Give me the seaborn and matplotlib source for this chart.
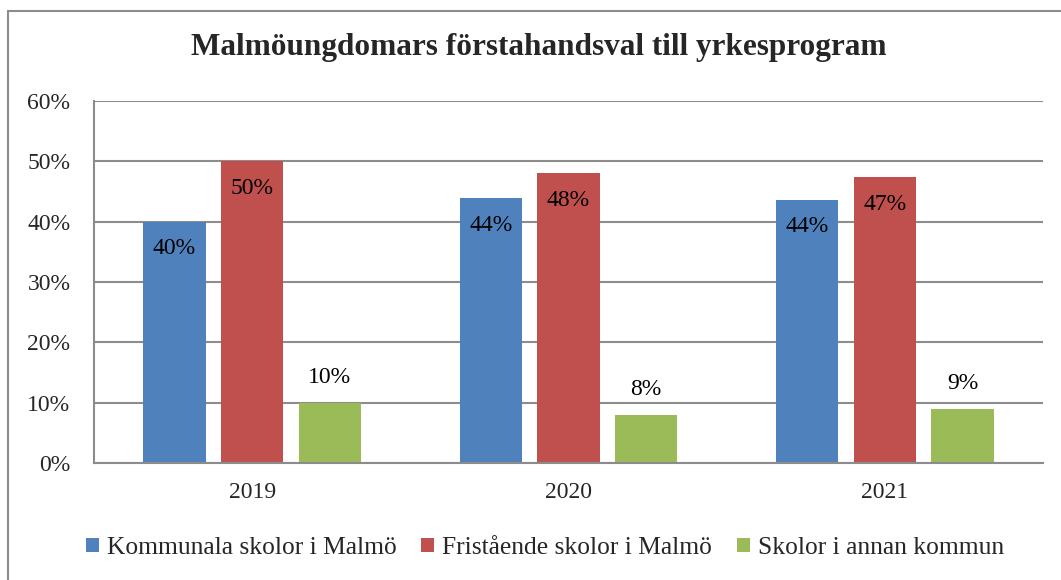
import pandas as pd
import matplotlib.pyplot as plt
import seaborn as sns
from matplotlib.patches import Rectangle

# data
years = ['2019', '2020', '2021']
series = ['Kommunala skolor i Malmö', 'Fristående skolor i Malmö', 'Skolor i annan kommun']
kommunala = [40.0, 43.9, 43.6]
fristaende = [50.0, 48.0, 47.4]
annan = [10.0, 8.0, 9.0]
label_kommunala = ['40%', '44%', '44%']
label_fristaende = ['50%', '48%', '47%']
label_annan = ['10%', '8%', '9%']
colors = ['#4F81BD', '#C0504D', '#9BBB59']
title = 'Malmöungdomars förstahandsval till yrkesprogram'

df = pd.DataFrame({
    'year': years * 3,
    'series': [series[0]] * 3 + [series[1]] * 3 + [series[2]] * 3,
    'value': kommunala + fristaende + annan,
})

sns.set_style('white')
plt.rcParams['font.family'] = ['Liberation Serif', 'DejaVu Serif']

W, H = 1061, 580
fig = plt.figure(figsize=(W / 100, H / 100), dpi=100)
ax = fig.add_axes([94 / W, 1 - 463 / H, 949 / W, 362 / H])

sns.barplot(data=df, x='year', y='value', hue='series', hue_order=series,
            palette=colors, width=0.737, gap=0.2, saturation=1, ax=ax,
            edgecolor='none')

ax.set_ylim(0, 60)
ax.set_xlim(-0.5, 2.5)
ax.set_yticks(range(0, 61, 10))
ax.set_yticklabels([f'{v}%' for v in range(0, 61, 10)])
ax.set_xlabel('')
ax.set_ylabel('')
ax.yaxis.grid(True, color='#8c8c8c', linewidth=1.5)
ax.set_axisbelow(True)
for s in ['top', 'right']:
    ax.spines[s].set_visible(False)
ax.spines['left'].set_color('#8c8c8c')
ax.spines['bottom'].set_color('#8c8c8c')
ax.spines['left'].set_linewidth(1.5)
ax.spines['bottom'].set_linewidth(1.5)
ax.tick_params(axis='y', length=5, width=1.5, color='#8c8c8c', labelsize=17, pad=12)
ax.tick_params(axis='x', length=0, labelsize=17, pad=14)

# value labels: inside end for the first two series, above for the third
all_labels = [label_kommunala, label_fristaende, label_annan]
for i, cont in enumerate(ax.containers):
    for bar, txt in zip(cont, all_labels[i]):
        x = bar.get_x() + bar.get_width() / 2
        y = bar.get_height()
        off = -27 if i < 2 else 25
        ax.annotate(txt, (x, y), xytext=(0, off), textcoords='offset pixels',
                    ha='center', va='center', fontsize=17, color='black')

handles, labels = ax.get_legend_handles_labels()
ax.get_legend().remove()
fig.legend(handles, labels, loc='center', bbox_to_anchor=(545 / W, 1 - 548 / H),
           ncol=3, frameon=False, fontsize=18.4, handlelength=0.51, handleheight=0.51,
           handletextpad=0.31, columnspacing=0.98, borderpad=0)

fig.text(539 / W, 1 - 48 / H, title, ha='center', va='center',
         fontsize=22.5, fontweight='bold')

# chart frame
fig.patches.append(Rectangle((8 / W, -0.1), 1.2, 1 - 11 / H + 0.1,
                             transform=fig.transFigure, fill=False,
                             edgecolor='#8c8c8c', linewidth=1.5))

fig.savefig('out.png', dpi=100)
